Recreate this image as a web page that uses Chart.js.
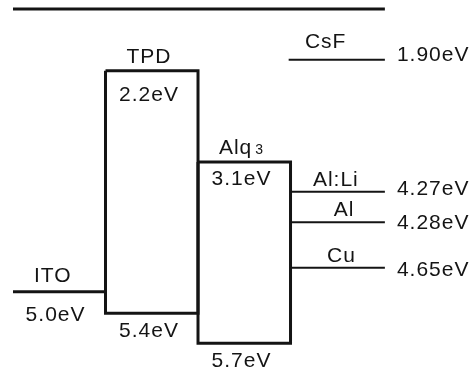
<!DOCTYPE html>
<html>
<head>
<meta charset="utf-8">
<script src="https://cdn.jsdelivr.net/npm/chart.js@4"></script>
<style>
  html, body { margin: 0; padding: 0; background: #fff; }
  canvas { display: block; }
</style>
</head>
<body>
<canvas id="levels" width="476" height="373"></canvas>
<script>
// energy levels, y values are schematic depth as drawn (not to scale)
const vacuumLevel = 1.12;

const anodeName = 'ITO';
const anodeLabel = '5.0eV';
const anodeLevel = 4.91;

const organicNames = ['TPD', 'Alq'];
const organicSub = ['', '3'];
const lumoLabels = ['2.2eV', '3.1eV'];
const homoLabels = ['5.4eV', '5.7eV'];
const lumoLevels = [1.95, 3.17];
const homoLevels = [5.20, 5.60];

const cathodeNames = ['CsF', 'Al:Li', 'Al', 'Cu'];
const cathodeLabels = ['1.90eV', '4.27eV', '4.28eV', '4.65eV'];
const cathodeLevels = [1.80, 3.57, 3.98, 4.59];

// layers sit side by side, one unit wide each: anode 0-1, organics 1-3, cathode 3-4
const INK = '#141414';
const FONT = '21px "Liberation Sans", Arial, sans-serif';
const SMALL = '14px "Liberation Sans", Arial, sans-serif';

const lineSet = (pts, w) => ({
  data: pts,
  showLine: true,
  borderColor: INK,
  borderWidth: w,
  pointRadius: 0,
  tension: 0,
  fill: false,
});

const datasets = [];
datasets.push(lineSet([{ x: 0, y: vacuumLevel }, { x: 4.02, y: vacuumLevel }], 3));
datasets.push(lineSet([{ x: 0, y: anodeLevel }, { x: 1, y: anodeLevel }], 3));
organicNames.forEach((n, i) => {
  const x0 = i + 1, x1 = i + 2;
  datasets.push(lineSet([
    { x: x0, y: lumoLevels[i] }, { x: x1, y: lumoLevels[i] },
    { x: x1, y: homoLevels[i] }, { x: x0, y: homoLevels[i] },
    { x: x0, y: lumoLevels[i] },
  ], 3));
});
cathodeLevels.forEach((v, i) => {
  datasets.push(lineSet([{ x: i === 0 ? 2.98 : 3, y: v }, { x: 4.02, y: v }], 2));
});

const labelPlugin = {
  id: 'levelLabels',
  afterDatasetsDraw(chart) {
    const { ctx, scales: { x, y } } = chart;
    ctx.save();
    ctx.fillStyle = INK;
    ctx.textBaseline = 'middle';
    ctx.font = FONT;
    ctx.letterSpacing = '1px';

    const text = (s, px, py, align) => {
      ctx.textAlign = align || 'center';
      ctx.fillText(s, px, py);
    };

    // anode
    text(anodeName, x.getPixelForValue(0.43), y.getPixelForValue(anodeLevel) - 15);
    text(anodeLabel, x.getPixelForValue(0.46), y.getPixelForValue(anodeLevel) + 24);

    // organics
    organicNames.forEach((n, i) => {
      const cx = x.getPixelForValue(i + 1.47);
      const top = y.getPixelForValue(lumoLevels[i]);
      const bot = y.getPixelForValue(homoLevels[i]);
      if (organicSub[i]) {
        const w = ctx.measureText(n).width;
        ctx.font = SMALL;
        const ws = ctx.measureText(organicSub[i]).width;
        ctx.font = FONT;
        const start = cx - (w + ws + 3) / 2;
        text(n, start, top - 14, 'left');
        ctx.font = SMALL;
        text(organicSub[i], start + w + 3, top - 12, 'left');
        ctx.font = FONT;
      } else {
        text(n, cx, top - 14);
      }
      text(lumoLabels[i], cx, top + (i === 0 ? 24 : 17));
      text(homoLabels[i], cx, bot + 18);
    });

    // cathodes
    const nameX = [3.38, 3.49, 3.58, 3.55];
    const valOff = [-4, -3, 1, 2];
    cathodeNames.forEach((n, i) => {
      const ly = y.getPixelForValue(cathodeLevels[i]);
      text(n, x.getPixelForValue(nameX[i]), ly - (i === 0 ? 17 : 12));
      text(cathodeLabels[i], x.getPixelForValue(4.15), ly + valOff[i], 'left');
    });
    ctx.restore();
  },
};

new Chart(document.getElementById('levels'), {
  type: 'scatter',
  data: { datasets },
  options: {
    responsive: false,
    animation: false,
    layout: { padding: 0 },
    plugins: { legend: { display: false }, tooltip: { enabled: false } },
    scales: {
      x: { type: 'linear', display: false, min: -0.1405, max: 5.005 },
      y: { type: 'linear', display: false, reverse: true, min: 1.0, max: 6.0 },
    },
  },
  plugins: [labelPlugin],
});
</script>
</body>
</html>
